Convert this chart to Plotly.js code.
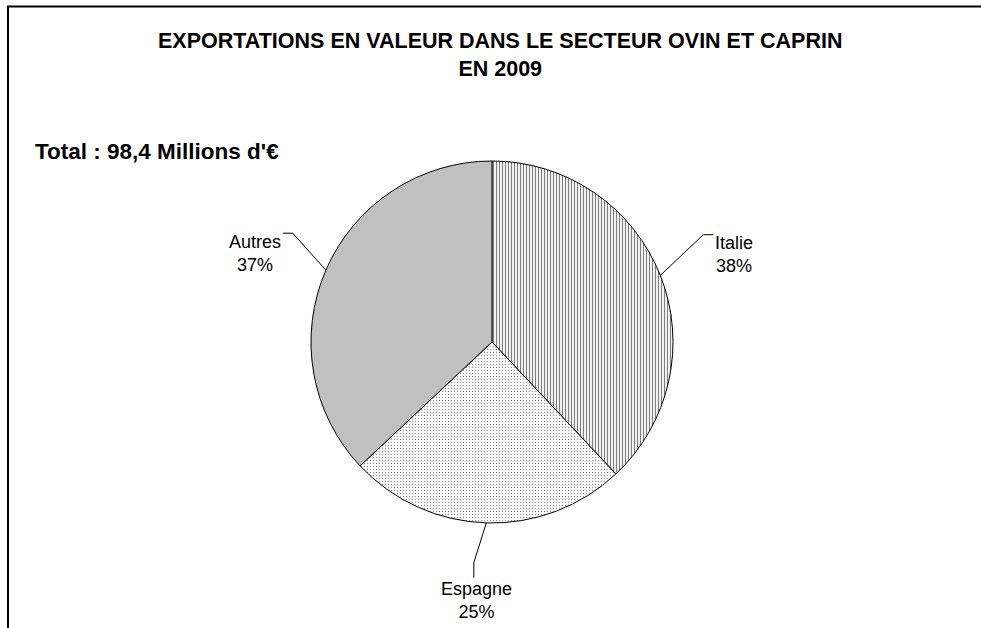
<!DOCTYPE html>
<html><head><meta charset="utf-8">
<script src="https://cdn.plot.ly/plotly-3.0.1.min.js"></script>
<style>html,body{margin:0;padding:0;background:#fff}#chart{width:981px;height:628px}</style>
</head><body><div id="chart"></div>
<script>
// ---- data ----
const labels = ["Italie", "Espagne", "Autres"];
const values = [38, 25, 37];
const percentText = ["38%", "25%", "37%"];
const titleLines = ["EXPORTATIONS EN VALEUR DANS LE SECTEUR OVIN ET CAPRIN", "EN 2009"];
const totalText = "Total : 98,4 Millions d'€";

// ---- style ----
const sliceColors = ["#ffffff", "#ffffff", "#c0c0c0"];
const patternShapes = ["|", ".", ""];
const labelNudge = [[0, 8], [-7, 0], [2, 14]];
const W = 981, H = 628;
const CX = 492, CY = 342, R = 181;
const FONT = "Liberation Sans, Arial, sans-serif";
const LABEL_SIZE = 18;

const px = x => x / W;
const py = y => 1 - y / H;

const ctx = document.createElement("canvas").getContext("2d");
ctx.font = LABEL_SIZE + "px 'Liberation Sans'";

const total = values.reduce((a, b) => a + b, 0);
let cum = 0;
const annotations = [];
const shapes = [];
values.forEach((v, i) => {
  const th = (cum + v / 2) / total * 2 * Math.PI;
  cum += v;
  const s = Math.sin(th), c = Math.cos(th);
  const E = [CX + R * s, CY - R * c];
  const L = [CX + 1.44 * R * s + labelNudge[i][0], CY - 1.43 * R * c + labelNudge[i][1]];
  annotations.push({
    xref: "paper", yref: "paper", x: px(L[0]), y: py(L[1]),
    xanchor: "center", yanchor: "middle", showarrow: false,
    text: labels[i] + "<br>" + percentText[i],
    font: {family: FONT, size: LABEL_SIZE, color: "#000"}
  });
  const halfW = Math.max(ctx.measureText(labels[i]).width, ctx.measureText(percentText[i]).width) / 2;
  let T, K;
  if (Math.abs(s) > 0.5) {
    const side = Math.sign(s);
    T = [L[0] - side * (halfW + 2), L[1] - 20];
    K = [T[0] - side * 10, T[1]];
  } else {
    const d = -Math.sign(c);
    T = [L[0] - 3, L[1] - d * 23];
    K = [T[0], T[1] - d * 15];
  }
  shapes.push({
    type: "path", xref: "paper", yref: "paper",
    path: `M ${px(E[0])} ${py(E[1])} L ${px(K[0])} ${py(K[1])} L ${px(T[0])} ${py(T[1])}`,
    line: {color: "#000", width: 1}
  });
});

// frame
shapes.push({type: "line", xref: "paper", yref: "paper", x0: px(7), x1: px(W + 2), y0: py(6.5), y1: py(6.5), line: {color: "#000", width: 2}});
shapes.push({type: "line", xref: "paper", yref: "paper", x0: px(8), x1: px(8), y0: py(6), y1: py(H + 2), line: {color: "#000", width: 2}});

// title and total
annotations.push({
  xref: "paper", yref: "paper", x: px(500), y: py(54.5), xanchor: "center", yanchor: "middle",
  showarrow: false, borderpad: 0,
  text: titleLines.map(t => "<b>" + t + "</b>").join("<br>"),
  font: {family: FONT, size: 21.5, color: "#000"}
});
annotations.push({
  xref: "paper", yref: "paper", x: px(33), y: py(152), xanchor: "left", yanchor: "middle",
  showarrow: false, text: "<b>" + totalText + "</b>",
  font: {family: FONT, size: 22.5, color: "#000"}
});

const trace = {
  type: "pie", labels: labels, values: values, sort: false, direction: "clockwise", rotation: 0,
  textinfo: "none", hoverinfo: "label+percent", showlegend: false,
  domain: {x: [px(CX - R), px(CX + R)], y: [py(CY + R), py(CY - R)]},
  marker: {
    colors: sliceColors,
    line: {color: "#000", width: 1},
    pattern: {shape: patternShapes, fgcolor: ["#000", "#333", "#000"], size: [3, 3, 8], solidity: [0.4, 0.2, 0.3], fillmode: "overlay"}
  }
};

const layout = {
  width: W, height: H, margin: {l: 0, r: 0, t: 0, b: 0},
  paper_bgcolor: "#fff", plot_bgcolor: "#fff",
  annotations: annotations, shapes: shapes, showlegend: false
};

Plotly.newPlot("chart", [trace], layout, {displayModeBar: false, staticPlot: true});
</script>
</body></html>
